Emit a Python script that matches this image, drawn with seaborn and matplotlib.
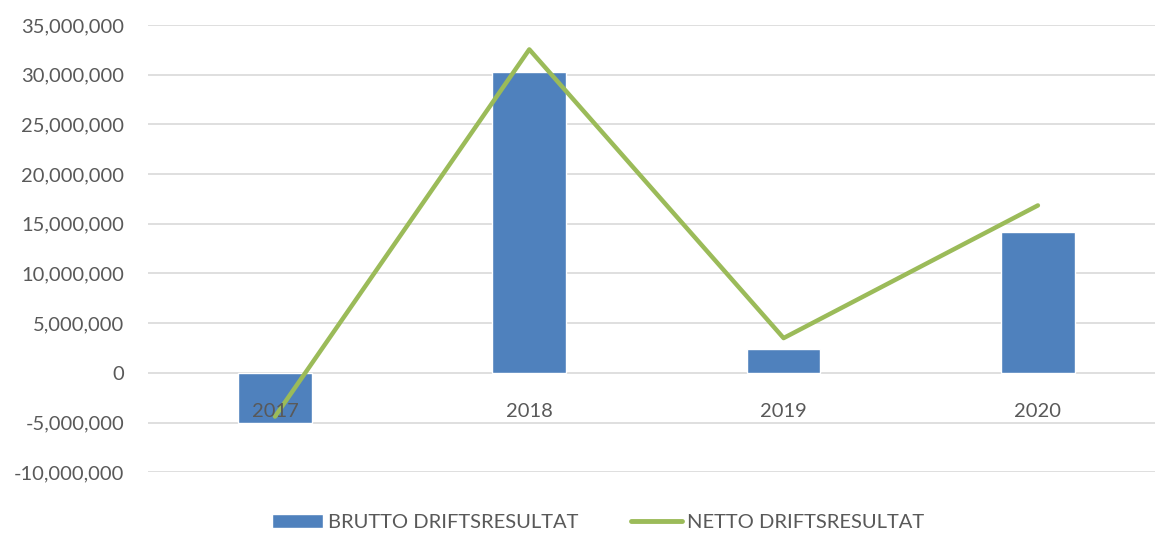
import numpy as np
import pandas as pd
import seaborn as sns
from matplotlib import pyplot as plt
from matplotlib.ticker import FuncFormatter
import matplotlib.patches as patches
from matplotlib.lines import Line2D

years = ["2017", "2018", "2019", "2020"]
brutto = [-5.0e6, 30.25e6, 2.4e6, 14.2e6]
netto = [-4.4e6, 32.55e6, 3.5e6, 16.85e6]

bar_color = "#4f81bd"
line_color = "#9bbb59"
text_color = "#595959"
grid_color = "#d9d9d9"

sns.set_style("white")
plt.rcParams['font.family'] = ['Lato', 'DejaVu Sans']

df = pd.DataFrame({"year": years, "brutto": brutto, "netto": netto})

fig, ax = plt.subplots(figsize=(11.55, 5.33), dpi=100)
plt.subplots_adjust(left=0.128, right=1.0087, top=0.953, bottom=0.114)

sns.barplot(data=df, x="year", y="brutto", color=bar_color, width=0.29,
            saturation=1, ax=ax, zorder=2)
sns.lineplot(x=np.arange(len(years)), y=df["netto"], color=line_color,
             linewidth=3.2, ax=ax, zorder=3, sort=False)

ax.set_ylim(-10e6, 35e6)
ax.set_xlim(-0.5, 3.5)
ax.set_yticks(np.arange(-10e6, 35e6 + 1, 5e6))
ax.yaxis.set_major_formatter(FuncFormatter(lambda v, p: f"{v:,.0f}"))
ax.grid(axis="y", color=grid_color, linewidth=1.2, zorder=0)
ax.set_axisbelow(True)
for s in ax.spines.values():
    s.set_visible(False)
ax.spines['bottom'].set_position(('data', 0))
ax.xaxis.set_zorder(5)  # year labels sit on top of the 2017 bar
ax.tick_params(axis="both", length=0, labelsize=14.5, colors=text_color)
ax.tick_params(axis="y", pad=17)
ax.tick_params(axis="x", pad=22)
ax.set_xlabel("")
ax.set_ylabel("")

handles = [
    patches.Rectangle((0, 0), 1, 1, facecolor=bar_color),
    Line2D([0], [0], color=line_color, linewidth=3.5, solid_capstyle="round"),
]
fig.legend(handles, ["BRUTTO DRIFTSRESULTAT", "NETTO DRIFTSRESULTAT"],
           loc="center", bbox_to_anchor=(0.518, 0.02), ncol=2,
           frameon=False, fontsize=14.5, labelcolor=text_color,
           handlelength=2.55, handleheight=0.7, handletextpad=0.25, columnspacing=2.6)

plt.savefig("out.png", dpi=100)
